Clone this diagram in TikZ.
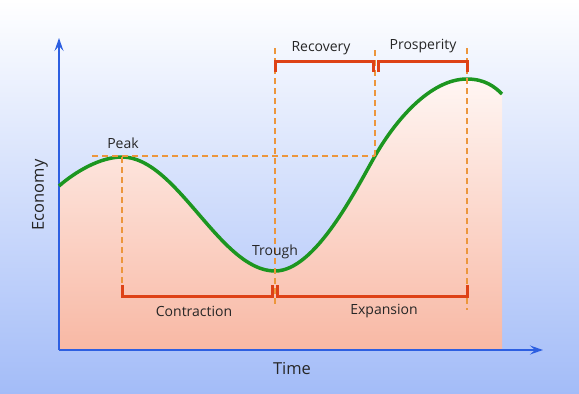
\documentclass[tikz,border=0pt]{standalone}
\usepackage{fontspec}
\setmainfont{Open Sans}
\usetikzlibrary{calc,positioning,arrows.meta}
\definecolor{bgblue}{RGB}{163,188,248}
\definecolor{salmon}{RGB}{248,184,164}
\definecolor{blush}{RGB}{255,246,243}
\definecolor{cyclegreen}{RGB}{28,150,32}
\definecolor{axisblue}{RGB}{45,95,225}
\definecolor{brred}{RGB}{222,66,22}
\definecolor{dashorange}{RGB}{236,150,60}

\begin{document}
\begin{tikzpicture}[x=1pt,y=-1pt]
\tikzstyle{lbl}=[text=black!85, font=\fontsize{14}{16}\selectfont, inner sep=1pt]
\tikzstyle{biglbl}=[text=black!85, font=\fontsize{16.5}{19}\selectfont, inner sep=1pt]
\tikzstyle{guideline}=[dashorange, dash pattern=on 6pt off 4pt, line width=1.2pt]
\tikzstyle{bracket}=[brred, line width=3pt, line join=miter]
\tikzstyle{axis}=[axisblue, line width=1.5pt, -{Stealth[length=13pt,width=9pt,inset=5pt]}]
% background
\shade[top color=white, middle color=bgblue!40!white, bottom color=bgblue] (0,0) rectangle (579,394);
\useasboundingbox (0,0) rectangle (579,394);
% key points of the cycle
\coordinate (o) at (59,350);
\coordinate (ytip) at (59,38);
\coordinate (xtip) at (543,350);
\coordinate (start) at (59,186);
\coordinate (pk) at (122,157);
\coordinate (tr) at (275,271);
\coordinate (rc) at (375,156);
\coordinate (pp) at (467,79);
\coordinate (end) at (502,94);
\coordinate (endb) at (502,350);
% area under the curve
\shade[top color=blush, bottom color=salmon] (start) .. controls (75,172) and (100,157) .. (pk)
  .. controls (177,157) and (220,271) .. (tr) .. controls (315,271) and (355,191) .. (rc)
  .. controls (395,121) and (430,79) .. (pp) .. controls (485,79) and (495,87) .. (end)
  -- (endb) -- (o) -- cycle;
\draw[axis] (o) -- (ytip);
\draw[axis] (o) -- (xtip);
\draw[cyclegreen, line width=3.5pt] (start) .. controls (75,172) and (100,157) .. (pk)
  .. controls (177,157) and (220,271) .. (tr) .. controls (315,271) and (355,191) .. (rc)
  .. controls (395,121) and (430,79) .. (pp) .. controls (485,79) and (495,87) .. (end);
% guide lines
\coordinate (hl) at (92,156);
\coordinate (pkb) at (122,290);
\coordinate (trt) at (275,48);
\coordinate (trb) at (275,306);
\coordinate (rct) at (375,50);
\coordinate (ppt) at (467,48);
\coordinate (ppb) at (467,310);
\draw[guideline] (hl) -- (rc);
\draw[guideline] (pk) -- (pkb);
\draw[guideline] (trt) -- (trb);
\draw[guideline] (rct) -- (rc);
\draw[guideline] (ppt) -- (ppb);
% brackets
\draw[bracket] (275,72) |- (373.5,61) -- (373.5,72);
\draw[bracket] (378.5,72) |- (467,61) -- (467,72);
\draw[bracket] (122,285) |- (272.5,296) -- (272.5,285);
\draw[bracket] (277.5,285) |- (467,296) -- (467,285);
% labels
\node[lbl] (recovery) at (321,48) {Recovery};
\node[lbl] (prosperity) at (423,46) {Prosperity};
\node[lbl] (peak) at (123,143) {Peak};
\node[lbl] (trough) at (275,252) {Trough};
\node[lbl] (contraction) at (194,311) {Contraction};
\node[lbl] (expansion) at (384,311) {Expansion};
\node[biglbl] (time) at (292,369) {Time};
\node[biglbl, rotate=90] (economy) at (40,195) {Economy};
\end{tikzpicture}
\end{document}
